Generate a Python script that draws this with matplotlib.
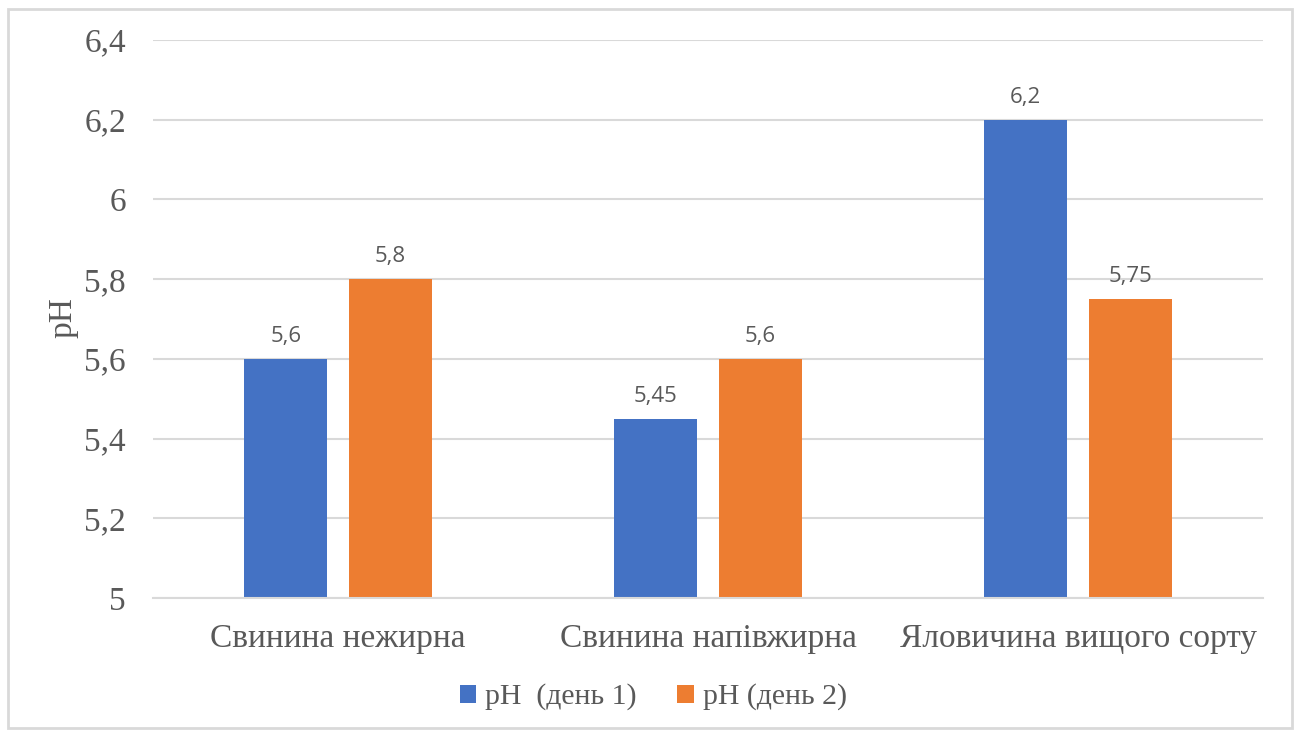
import matplotlib.pyplot as plt
import numpy as np
from matplotlib.patches import Rectangle

plt.rcParams['font.family'] = ['Liberation Serif', 'DejaVu Serif']

categories = ['Свинина нежирна', 'Свинина напівжирна', 'Яловичина вищого сорту']
ph_day1 = [5.6, 5.45, 6.2]
ph_day2 = [5.8, 5.6, 5.75]
series_names = ['pH  (день 1)', 'pH (день 2)']
y_ticks = [5.0, 5.2, 5.4, 5.6, 5.8, 6.0, 6.2, 6.4]

BLUE = '#4472C4'
ORANGE = '#ED7D31'
TEXT = '#595959'
GRID = '#D9D9D9'


def fmt(v):
    s = f'{v:.2f}'.rstrip('0').rstrip('.')
    return s.replace('.', ',')


fig = plt.figure(figsize=(12.99, 7.35), dpi=100)
ax = fig.add_axes([153 / 1299, 1 - 598 / 735, 1110 / 1299, 558 / 735])

x = np.arange(len(categories))
w = 0.224
off = 0.141
b1 = ax.bar(x - off, np.array(ph_day1) - 5, w, bottom=5, color=BLUE, label=series_names[0], zorder=2)
b2 = ax.bar(x + off, np.array(ph_day2) - 5, w, bottom=5, color=ORANGE, label=series_names[1], zorder=2)

# value labels above the bars
for bars, vals in ((b1, ph_day1), (b2, ph_day2)):
    for rect, v in zip(bars, vals):
        ax.annotate(fmt(v), (rect.get_x() + rect.get_width() / 2, v),
                    xytext=(0, 12), textcoords='offset points',
                    ha='center', va='baseline', fontsize=16,
                    family=['Open Sans', 'DejaVu Sans'], color=TEXT)

ax.set_xlim(-0.5, 2.5)
ax.set_ylim(5.0, 6.4)
ax.set_yticks(y_ticks)
ax.set_yticklabels([fmt(t) for t in y_ticks])
ax.set_xticks(x)
ax.set_xticklabels(categories)
ax.tick_params(axis='both', length=0, labelsize=24, colors=TEXT)
ax.tick_params(axis='y', pad=19.5)
ax.tick_params(axis='x', pad=18)
ax.yaxis.grid(True, color=GRID, linewidth=1.5, zorder=0)
ax.set_axisbelow(True)
for side in ('top', 'right', 'left'):
    ax.spines[side].set_visible(False)
ax.spines['bottom'].set_color(GRID)
ax.spines['bottom'].set_linewidth(1.5)

fig.text(63 / 1299, 1 - 318 / 735, 'pH', rotation=90, ha='center', va='center',
         fontsize=24, color=TEXT)

fig.legend(loc='center', bbox_to_anchor=(0.503, 1 - 697 / 735), ncol=2, frameon=False,
           fontsize=21.5, labelcolor=TEXT, handlelength=0.55, handleheight=0.55,
           handletextpad=0.3, columnspacing=1.35, borderpad=0)

# outer chart border
fig.patches.append(Rectangle((8 / 1299, 7 / 735), 1284 / 1299, 719 / 735,
                             transform=fig.transFigure, fill=False,
                             edgecolor='#D9D9D9', linewidth=2))

fig.savefig('out.png', dpi=100)
